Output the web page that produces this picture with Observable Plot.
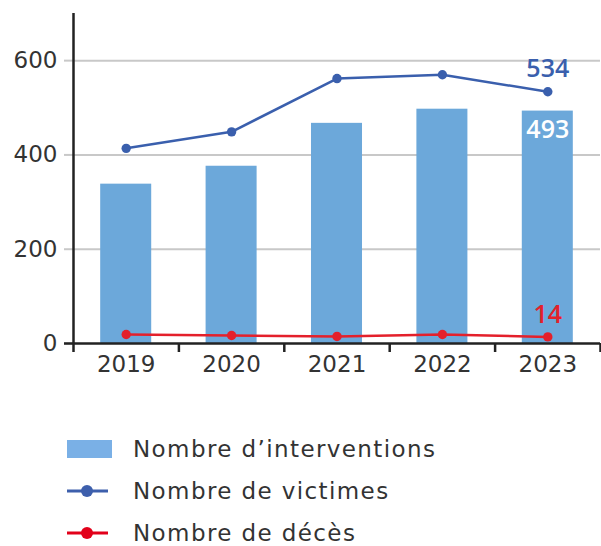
<!DOCTYPE html>
<html><head><meta charset="utf-8">
<script src="https://cdn.jsdelivr.net/npm/d3@7"></script>
<script src="https://cdn.jsdelivr.net/npm/@observablehq/plot@0.6"></script>
<style>
body{margin:0;background:#fff;font-family:"DejaVu Sans",sans-serif;}
#chart{width:601px;height:546px;position:relative;overflow:hidden;}
.legend{position:absolute;left:67px;top:428px;}
.row{display:flex;align-items:center;height:42px;font-size:23px;letter-spacing:1.4px;color:#333;}
.row span{line-height:20px;}
.row svg{margin-right:20px;flex:none;}
</style></head>
<body><div id="chart"></div>
<script>
const years = [2019, 2020, 2021, 2022, 2023];
const interventions = [338, 376, 467, 497, 493];
const victimes = [414, 449, 562, 570, 534];
const deces = [19, 17, 15, 19, 14];
const yTicks = [0, 200, 400, 600];
const legendLabels = ["Nombre d\u2019interventions", "Nombre de victimes", "Nombre de d\u00e9c\u00e8s"];

const BAR = "#6ca8da", BLUE = "#3a5fad", RED = "#e4202b", AXIS = "#222", GRID = "#c8c8c8";
const data = years.map((year, i) => ({year, interventions: interventions[i], victimes: victimes[i], deces: deces[i]}));
const last = data[data.length - 1];
const bounds = years.map(y => y - 0.5).concat([years[years.length - 1] + 0.5]);
const LABEL_FONT = "'Open Sans', sans-serif";

const chart = Plot.plot({
  width: 601, height: 400,
  marginTop: 13, marginBottom: 57, marginLeft: 73, marginRight: 1,
  style: {fontFamily: "'DejaVu Sans', sans-serif", color: "#333", background: "#fff"},
  x: {type: "linear", domain: [bounds[0], bounds[bounds.length - 1]]},
  y: {domain: [0, 700]},
  marks: [
    Plot.gridY({ticks: yTicks.slice(1), stroke: GRID, strokeOpacity: 1, strokeWidth: 2}),
    Plot.axisY({ticks: yTicks, tickSize: 9, tickPadding: 7, stroke: GRID, strokeOpacity: 1, strokeWidth: 2, fontSize: 23, fill: "#333", label: null}),
    Plot.rect(data, {x1: d => d.year - 0.242, x2: d => d.year + 0.242, y1: 0, y2: "interventions", fill: BAR}),
    Plot.ruleY([0], {stroke: AXIS, strokeWidth: 2.5}),
    Plot.axisY({ticks: [0], tickSize: 9, stroke: AXIS, strokeWidth: 2.5, tickFormat: () => "", label: null}),
    Plot.ruleX([bounds[0]], {y1: 0, y2: 700, stroke: AXIS, strokeWidth: 2.5}),
    Plot.axisX({ticks: bounds, tickSize: 9, stroke: AXIS, strokeWidth: 2.5, tickFormat: () => "", label: null}),
    Plot.axisX({ticks: years, tickSize: 0, tickPadding: 12, tickFormat: d => String(d), fontSize: 23, fill: "#333", label: null}),
    Plot.line(data, {x: "year", y: "victimes", stroke: BLUE, strokeWidth: 2.5}),
    Plot.dot(data, {x: "year", y: "victimes", fill: BLUE, r: 4.7}),
    Plot.line(data, {x: "year", y: "deces", stroke: RED, strokeWidth: 2.5}),
    Plot.dot(data, {x: "year", y: "deces", fill: RED, r: 4.7}),
    Plot.text([last], {x: "year", y: "victimes", text: d => String(d.victimes), dy: -23, fill: BLUE, fontSize: 25, fontWeight: 600, fontFamily: LABEL_FONT}),
    Plot.text([last], {x: "year", y: "interventions", text: d => String(d.interventions), dy: 19, fill: "#fff", fontSize: 25, fontWeight: 600, fontFamily: LABEL_FONT}),
    Plot.text([last], {x: "year", y: "deces", text: d => String(d.deces), dy: -22, fill: RED, fontSize: 25, fontWeight: 600, fontFamily: LABEL_FONT})
  ]
});
const host = document.getElementById("chart");
host.appendChild(chart);

const legend = document.createElement("div");
legend.className = "legend";
const sw = [
  `<svg width="46" height="20"><rect x="0" y="1" width="45" height="18" fill="#7ab0e6"/></svg>`,
  `<svg width="46" height="20"><line x1="0" x2="41" y1="10" y2="10" stroke="#3d5fac" stroke-width="3"/><circle cx="20" cy="10" r="6" fill="#3d5fac"/></svg>`,
  `<svg width="46" height="20"><line x1="0" x2="41" y1="10" y2="10" stroke="#e2001a" stroke-width="3"/><circle cx="20" cy="10" r="6" fill="#e2001a"/></svg>`
];
legendLabels.forEach((t, i) => {
  const r = document.createElement("div");
  r.className = "row";
  r.innerHTML = sw[i] + `<span>${t}</span>`;
  legend.appendChild(r);
});
host.appendChild(legend);
</script></body></html>
